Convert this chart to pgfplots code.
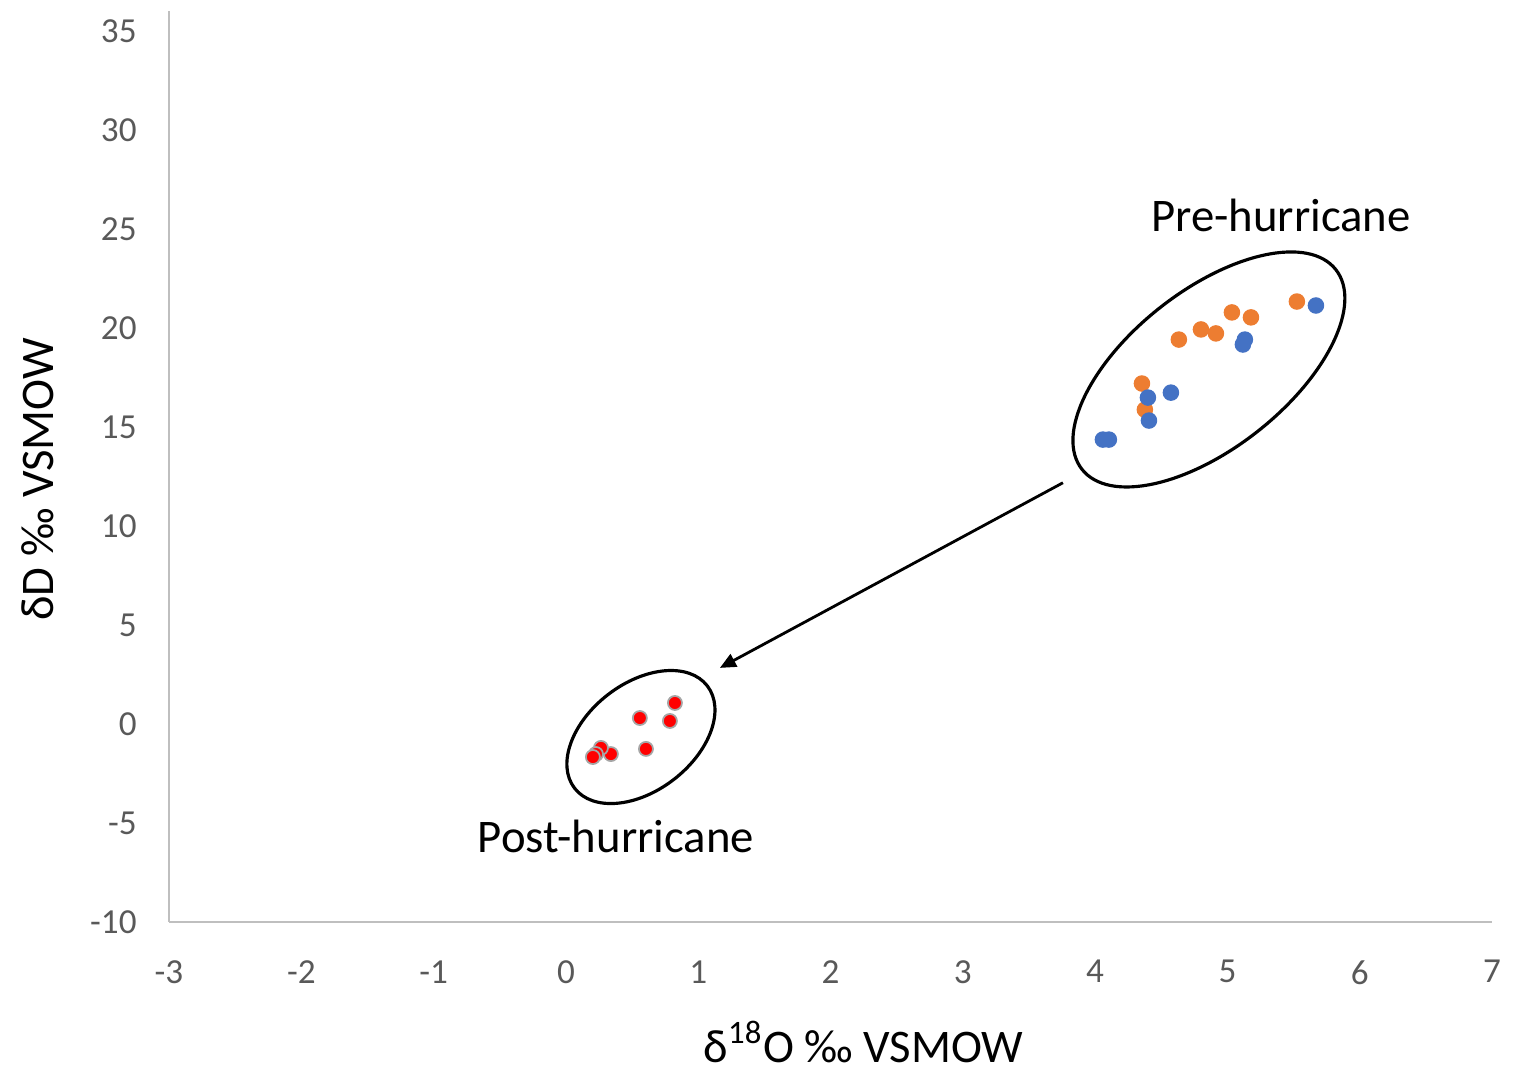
\documentclass[border=0pt]{standalone}
\usepackage{fontspec}
\setmainfont{Carlito}
\usepackage{pgfplots}
\pgfplotsset{compat=1.18}
\usetikzlibrary{arrows.meta}

\definecolor{xlblue}{HTML}{4472C4}
\definecolor{xlorange}{HTML}{ED7D31}
\definecolor{axisgray}{HTML}{BFBFBF}
\definecolor{ticktext}{HTML}{595959}

\pgfplotstableread{
x y
5.669 21.13
5.132 19.41
5.117 19.16
4.399 16.48
4.573 16.73
4.407 15.32
4.059 14.36
4.104 14.36
}\preblue

\pgfplotstableread{
x y
5.525 21.33
5.034 20.78
5.178 20.53
4.800 19.92
4.913 19.72
4.633 19.41
4.354 17.19
4.376 15.87
}\preorange

\pgfplotstableread{
x y
0.824 1.06
0.559 0.30
0.786 0.15
0.605 -1.26
0.340 -1.52
0.265 -1.21
0.227 -1.52
0.204 -1.67
}\post

\begin{document}
\begin{tikzpicture}
\useasboundingbox (-1.69,-1.49) rectangle (13.58,9.22);
\begin{axis}[
    scale only axis,
    width=13.23cm,
    height=9.11cm,
    xmin=-3, xmax=7,
    ymin=-10, ymax=36,
    axis lines*=left,
    axis line style={axisgray, line width=0.6pt},
    major tick length=0pt,
    xtick={-3,-2,...,7},
    xticklabels={-3,-2,-1,0,1,2,3,4,5,6,7},
    ytick={-10,-5,...,35},
    yticklabels={-10,-5,0,5,10,15,20,25,30,35},
    tick label style={font=\fontsize{10}{11}\selectfont, text=ticktext},
    xticklabel style={yshift=-0.26cm},
    yticklabel style={xshift=-0.2cm},
    xlabel={δ\textsuperscript{18}O ‰ VSMOW},
    ylabel={δD ‰ VSMOW},
    label style={font=\fontsize{13.3}{15}\selectfont},
    xlabel style={at={(axis description cs:0.525,0)}, anchor=center, yshift=-1.2cm},
    ylabel style={at={(axis description cs:0,0.486)}, anchor=center, yshift=1.31cm},
    clip=false,
]
\addplot[only marks, mark=*, mark size=2.15pt, mark options={fill=xlorange, draw=xlorange}] table {\preorange};
\addplot[only marks, mark=*, mark size=2.15pt, mark options={fill=xlblue, draw=xlblue}] table {\preblue};
\addplot[only marks, mark=*, mark size=2pt, mark options={fill=red, draw=gray!70, line width=0.5pt}] table {\post};

\draw[line width=0.9pt] (axis cs:4.860,17.90) ellipse[x radius=1.615cm, y radius=0.788cm, rotate=38.2];
\draw[line width=0.9pt] (axis cs:0.567,-0.66) ellipse[x radius=0.838cm, y radius=0.537cm, rotate=37.6];
\draw[line width=0.8pt, -{Triangle[length=0.16cm, width=0.14cm]}] (axis cs:3.757,12.18) -- (axis cs:1.164,2.83);

\node[font=\fontsize{13.3}{15}\selectfont] at (axis cs:5.404,25.68) {Pre-hurricane};
\node[font=\fontsize{13.3}{15}\selectfont] at (axis cs:0.378,-5.66) {Post-hurricane};
\end{axis}
\end{tikzpicture}
\end{document}
